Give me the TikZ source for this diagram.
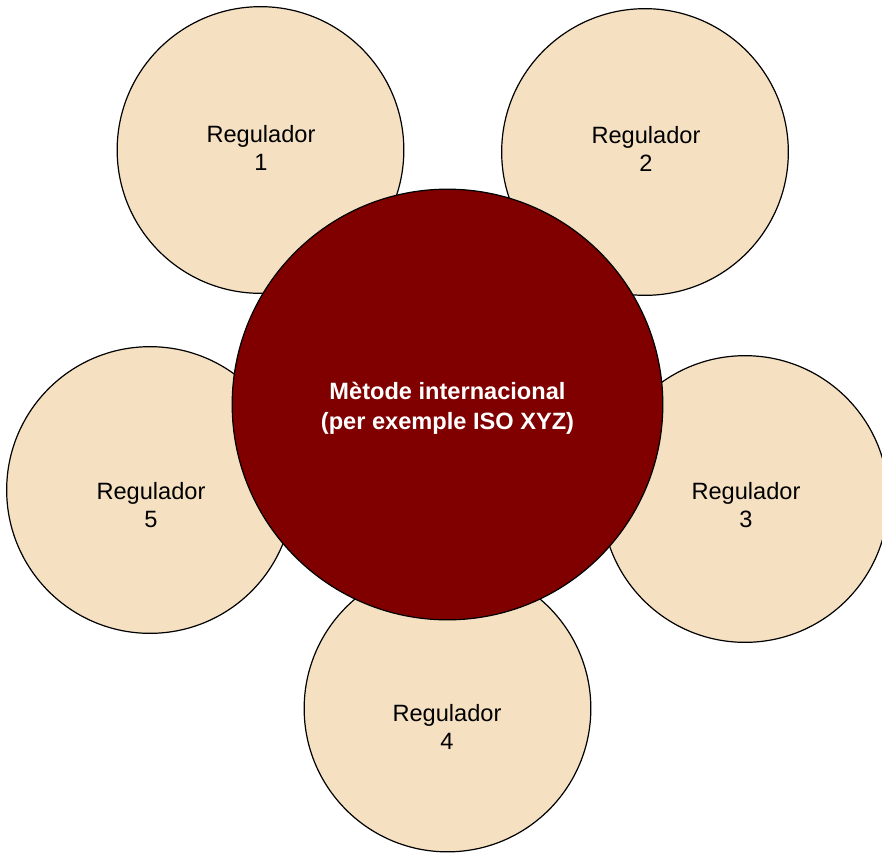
\documentclass[tikz,border=0pt]{standalone}
\usepackage{fontspec}
\setmainfont{Liberation Sans}
\definecolor{beix}{HTML}{F5E1C2}
\definecolor{granat}{HTML}{800000}
\begin{document}
\begin{tikzpicture}[x=0.75pt,y=-0.75pt,
    regulador/.style={circle, draw=black, line width=0.9pt, fill=beix, minimum size=215pt, inner sep=0pt},
    metode/.style={circle, draw=black, line width=0.9pt, fill=granat, minimum size=323pt, inner sep=0pt},
    etiqueta/.style={align=center, inner sep=0pt, font=\fontsize{17.7}{21}\selectfont},
    titol/.style={align=center, inner sep=0pt, text=white, font=\bfseries\fontsize{17.7}{22.5}\selectfont}]
    % Marges del dibuix (en píxels)
    \useasboundingbox (0,0) rectangle (882,854);

    % Cercles dels reguladors (primer, per quedar sota el cercle central)
    \node[regulador] (reg1) at (260.5,150) {};
    \node[regulador] (reg2) at (645,152) {};
    \node[regulador] (reg3) at (745,499) {};
    \node[regulador] (reg4) at (447.5,708.5) {};
    \node[regulador] (reg5) at (150,490) {};

    % Textos dels reguladors
    \node[etiqueta] (txt1) at (261,148) {Regulador\\1};
    \node[etiqueta] (txt2) at (646,149) {Regulador\\2};
    \node[etiqueta] (txt3) at (746,505) {Regulador\\3};
    \node[etiqueta] (txt4) at (447,727) {Regulador\\4};
    \node[etiqueta] (txt5) at (151,505) {Regulador\\5};

    % Cercle central
    \node[metode] (metode) at (447.5,404.5) {};
    \node[titol] (txtmetode) at (447.5,408) {Mètode internacional\\(per exemple ISO XYZ)};
\end{tikzpicture}
\end{document}
